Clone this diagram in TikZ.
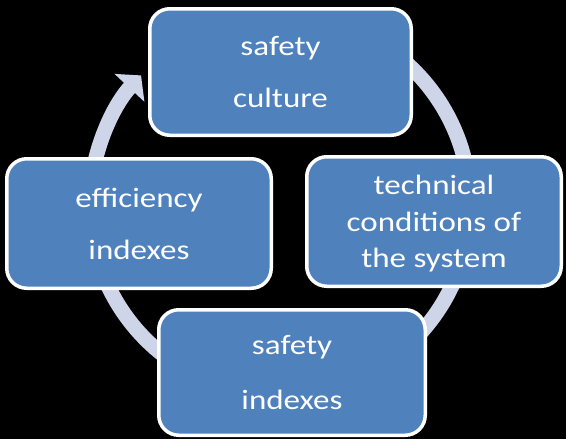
\documentclass[tikz,border=0pt]{standalone}
\usepackage{fontspec}
\setmainfont{Carlito}[FakeStretch=1.18]
\usetikzlibrary{arrows.meta}
\definecolor{boxblue}{RGB}{79,129,189}
\definecolor{ringgray}{RGB}{206,213,232}
\tikzset{
  stage/.style={draw=white, line width=3.5pt, fill=boxblue, rounded corners=20pt,
    text=white, align=center, inner sep=0pt, text depth=0pt,
    font=\fontsize{28}{52}\selectfont},
  ring/.style={ringgray, line width=15pt, -{Triangle[width=40pt,length=17pt]}}
}
\begin{document}
\begin{tikzpicture}[x=1pt,y=-1pt]
  \fill[black] (0,0) rectangle (566,439);
  \useasboundingbox (0,0) rectangle (566,439);
  % circular arrow behind the boxes
  \def\ringc{(280,205)}
  \draw[ring] \ringc ++(-80:190) arc[start angle=-80, end angle=223, radius=190];
  \node[stage, minimum width=261.5, minimum height=126.5] (culture) at (280.5,72) {safety\\culture};
  \node[stage, minimum width=254.5, minimum height=129.5, font=\fontsize{28}{36.5}\selectfont] (technical) at (434,221.5) {technical\\conditions of\\the system};
  \node[stage, minimum width=264.5, minimum height=129.5] (efficiency) at (139,223.5) {efficiency\\indexes};
  \node[stage, minimum width=266.5, minimum height=125.5, font=\fontsize{28}{55}\selectfont] (safety) at (292,372.5) {safety\\indexes};
\end{tikzpicture}
\end{document}
